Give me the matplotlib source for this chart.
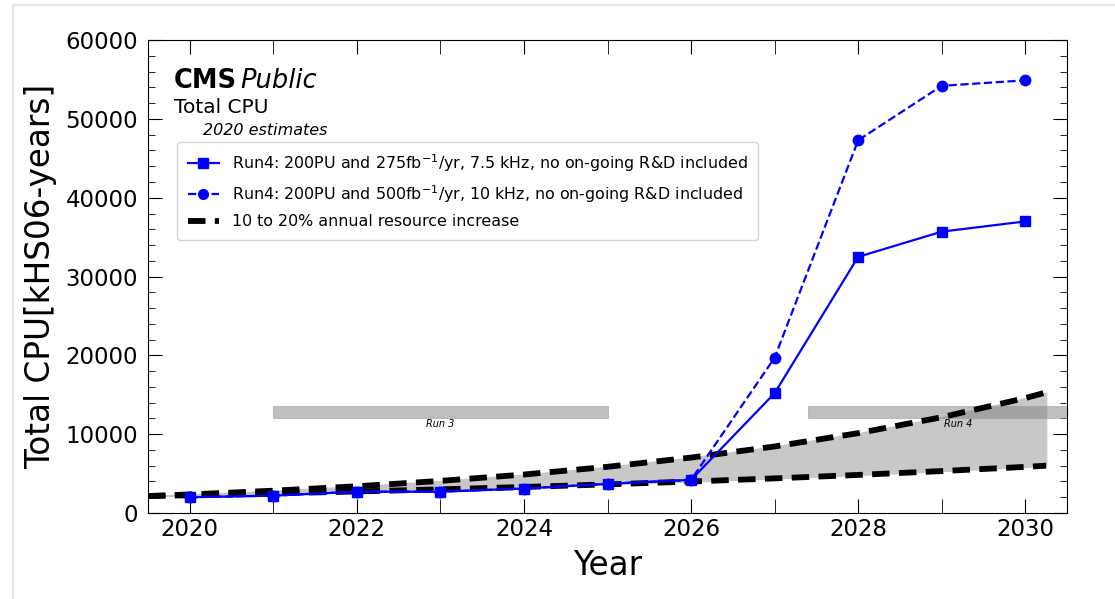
import matplotlib.pyplot as plt
from matplotlib.ticker import MultipleLocator
from matplotlib.patches import Rectangle
from matplotlib.lines import Line2D

# годы и оценки CPU (kHS06-years)
years = [2020, 2021, 2022, 2023, 2024, 2025, 2026, 2027, 2028, 2029, 2030]
cpu_275 = [2000, 2200, 2700, 2700, 3100, 3700, 4200, 15200, 32500, 35700, 37000]
cpu_500 = [2000, 2200, 2700, 2700, 3100, 3700, 4200, 19700, 47300, 54200, 54900]

# полоса роста ресурсов 10-20% в год
band_years = [2019.5, 2020, 2021, 2022, 2023, 2024, 2025, 2026, 2027, 2028, 2029, 2030, 2030.25]
band_low = [2150, 2250, 2480, 2730, 3000, 3300, 3630, 3990, 4390, 4830, 5320, 5850, 6000]
band_high = [2150, 2350, 2830, 3390, 4070, 4880, 5860, 7030, 8440, 10130, 12150, 14580, 15300]

# периоды набора данных
runs = ["Run 3", "Run 4"]
run_start = [2021, 2027.4]
run_end = [2025, 2031]
run_label_x = [2023, 2029.2]

fig = plt.figure(figsize=(11.15, 5.99), dpi=100)
ax = fig.add_axes([0.1327, 0.1436, 0.8243, 0.7894])

ax.fill_between(band_years, band_low, band_high, color="#c8c8c8", zorder=1)
ax.plot(band_years, band_high, "k--", lw=4.2, dashes=(3, 1.6), zorder=3)
ax.plot(band_years, band_low, "k--", lw=4.2, dashes=(3, 1.6), zorder=3)

for name, x0, x1, xt in zip(runs, run_start, run_end, run_label_x):
    ax.add_patch(Rectangle((x0, 12000), x1 - x0, 1600, facecolor="grey",
                           edgecolor="#999999", lw=0.8, alpha=0.5, zorder=2))
    ax.text(xt, 11300, name, fontsize=7, style="italic", ha="center", va="center")

ax.plot(years, cpu_275, "-s", color="blue", lw=1.6, ms=7.5, zorder=4)
ax.plot(years, cpu_500, "--o", color="blue", lw=1.6, ms=7.5, zorder=4)

ax.set_xlim(2019.5, 2030.5)
ax.set_ylim(0, 60000)
ax.xaxis.set_major_locator(MultipleLocator(2))
ax.xaxis.set_minor_locator(MultipleLocator(1))
ax.yaxis.set_major_locator(MultipleLocator(10000))
ax.yaxis.set_minor_locator(MultipleLocator(2000))
ax.tick_params(which="both", direction="in", top=True, right=True, labelsize=16.5)
ax.tick_params(axis="x", which="both", length=10)
ax.tick_params(axis="y", which="major", length=10, pad=7)
ax.tick_params(axis="y", which="minor", length=5)

ax.set_xlabel("Year", fontsize=23.5, labelpad=6)
ax.set_ylabel("Total CPU[kHS06-years]", fontsize=23.5, labelpad=6)

ax.text(0.028, 0.898, "CMS", transform=ax.transAxes, fontsize=18.5, fontweight="bold")
ax.text(0.1, 0.898, "Public", transform=ax.transAxes, fontsize=18.5, style="italic")
ax.text(0.028, 0.845, "Total CPU", transform=ax.transAxes, fontsize=14.5)
ax.text(0.06, 0.8, "2020 estimates", transform=ax.transAxes, fontsize=11.5, style="italic")

handles = [
    Line2D([], [], color="blue", marker="s", ls="-", lw=1.6, ms=7),
    Line2D([], [], color="blue", marker="o", ls="--", lw=1.6, ms=7),
    Line2D([], [], color="black", ls="--", lw=4.2, dashes=(3, 1.6)),
]
labels = [
    r"Run4: 200PU and 275fb$^{-1}$/yr, 7.5 kHz, no on-going R&D included",
    r"Run4: 200PU and 500fb$^{-1}$/yr, 10 kHz, no on-going R&D included",
    "10 to 20% annual resource increase",
]
ax.legend(handles, labels, loc="upper left", bbox_to_anchor=(0.032, 0.785),
          fontsize=11.4, frameon=True, borderaxespad=0, borderpad=0.65,
          labelspacing=0.6)

# рамка скриншота
fig.add_artist(Line2D([13 / 1115, 1], [1 - 5 / 599, 1 - 5 / 599], color="#e6e6e6", lw=1.5))
fig.add_artist(Line2D([13 / 1115, 13 / 1115], [0, 1 - 5 / 599], color="#e6e6e6", lw=1.5))

fig.savefig("out.png", dpi=100)
